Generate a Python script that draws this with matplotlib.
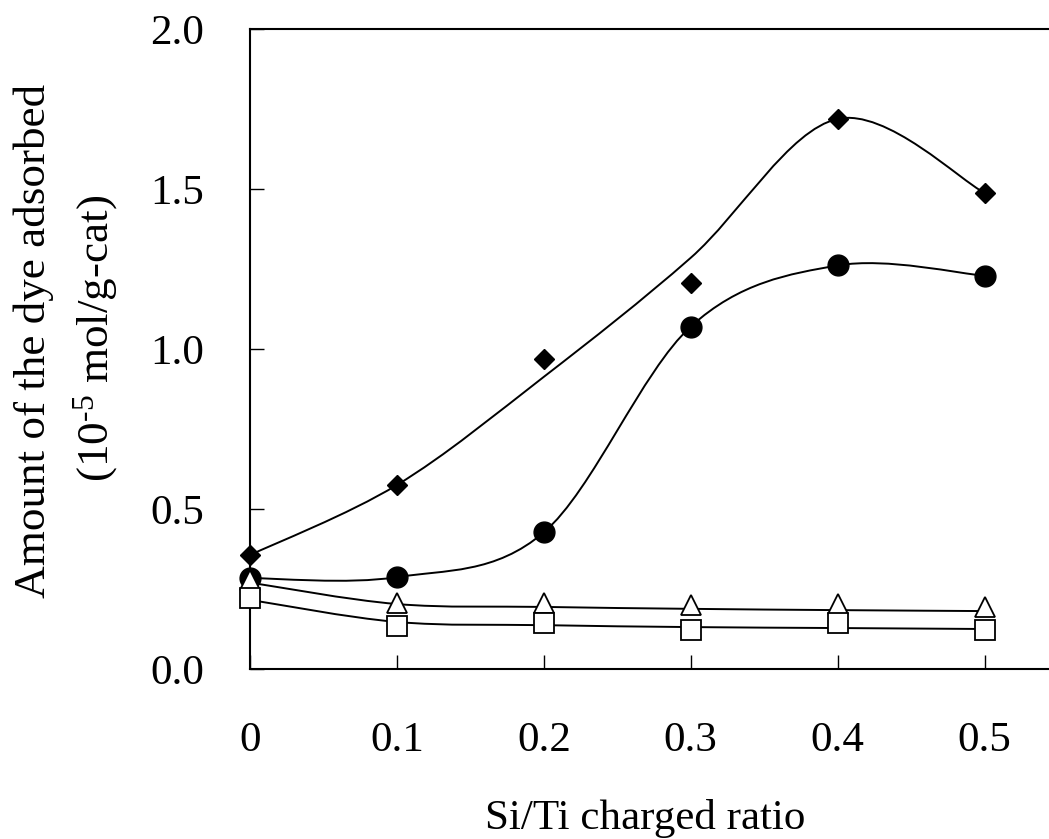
import matplotlib
matplotlib.use('Agg')
import matplotlib.pyplot as plt
from matplotlib.path import Path
from matplotlib.patches import PathPatch

plt.rcParams['font.family'] = ['Liberation Serif', 'DejaVu Serif']
plt.rcParams['mathtext.fontset'] = 'custom'
plt.rcParams['mathtext.rm'] = 'Liberation Serif'
plt.rcParams['mathtext.it'] = 'Liberation Serif:italic'

# Si/Ti charged ratio
ratio = [0, 0.1, 0.2, 0.3, 0.4, 0.5]

# measured amounts (10^-5 mol/g-cat)
diamond = [0.356, 0.575, 0.970, 1.207, 1.719, 1.488]
circle = [0.284, 0.287, 0.427, 1.070, 1.261, 1.229]
triangle = [0.278, 0.205, 0.206, 0.200, 0.203, 0.194]
square = [0.222, 0.133, 0.144, 0.122, 0.144, 0.122]

# smoothed trend lines drawn in the original (values of the curve at each ratio)
diamond_fit = [0.356, 0.575, 0.913, 1.285, 1.719, 1.488]
circle_fit = circle
triangle_fit = [0.270, 0.203, 0.194, 0.188, 0.184, 0.181]
square_fit = [0.216, 0.147, 0.137, 0.131, 0.128, 0.125]

xticks = [0, 0.1, 0.2, 0.3, 0.4, 0.5]
xticklabels = ['0', '0.1', '0.2', '0.3', '0.4', '0.5']
yticks = [0.0, 0.5, 1.0, 1.5, 2.0]
yticklabels = ['0.0', '0.5', '1.0', '1.5', '2.0']


def smooth_curve(ax, x, y):
    # Excel-style smoothed line: cubic Bezier segments between the points
    n = len(x)
    verts = [(x[0], y[0])]
    codes = [Path.MOVETO]
    for i in range(n - 1):
        p0 = max(i - 1, 0)
        p3 = min(i + 2, n - 1)
        c1 = (x[i] + (x[i + 1] - x[p0]) / 6.0, y[i] + (y[i + 1] - y[p0]) / 6.0)
        c2 = (x[i + 1] - (x[p3] - x[i]) / 6.0, y[i + 1] - (y[p3] - y[i]) / 6.0)
        verts += [c1, c2, (x[i + 1], y[i + 1])]
        codes += [Path.CURVE4] * 3
    patch = PathPatch(Path(verts, codes), facecolor='none', edgecolor='black',
                      lw=1.4, zorder=2, clip_on=False)
    ax.add_patch(patch)


fig = plt.figure(figsize=(10.49, 8.39), dpi=100, facecolor='white')
ax = fig.add_axes([250 / 1049, 1 - 669 / 839, 808 / 1049, 640 / 839])

for fit in (diamond_fit, circle_fit, triangle_fit, square_fit):
    smooth_curve(ax, ratio, fit)

ax.plot(ratio, diamond, linestyle='none', marker='D', ms=10.5, mfc='black',
        mec='black', zorder=3, clip_on=False)
ax.plot(ratio, circle, linestyle='none', marker='o', ms=15, mfc='black',
        mec='black', zorder=4, clip_on=False)
ax.plot(ratio, triangle, linestyle='none', marker='^', ms=14, mfc='white',
        mec='black', mew=1.3, zorder=5, clip_on=False)
ax.plot(ratio, square, linestyle='none', marker='s', ms=14, mfc='white',
        mec='black', mew=1.3, zorder=6, clip_on=False)

ax.set_xlim(0, 0.55)
ax.set_ylim(0, 2.0)
ax.set_xticks(xticks)
ax.set_xticklabels(xticklabels)
ax.set_yticks(yticks)
ax.set_yticklabels(yticklabels)
ax.tick_params(direction='in', length=10, width=1, labelsize=31, color='black')
ax.tick_params(axis='x', pad=38)
ax.tick_params(axis='y', pad=33)
for side in ('left', 'bottom', 'top', 'right'):
    ax.spines[side].set_linewidth(1.5)
    ax.spines[side].set_color('black')

fig.text(645 / 1049, 1 - 829 / 839, 'Si/Ti charged ratio', fontsize=31,
         ha='center', va='baseline')
fig.text(34 / 1049, 1 - 341 / 839, 'Amount of the dye adsorbed', fontsize=32.5,
         rotation=90, ha='center', va='center')
fig.text(96 / 1049, 1 - 338 / 839, '(10$^{\\text{-5}}$ mol/g-cat)', fontsize=32.5,
         rotation=90, ha='center', va='center')

fig.savefig('out.png', dpi=100, facecolor='white')
